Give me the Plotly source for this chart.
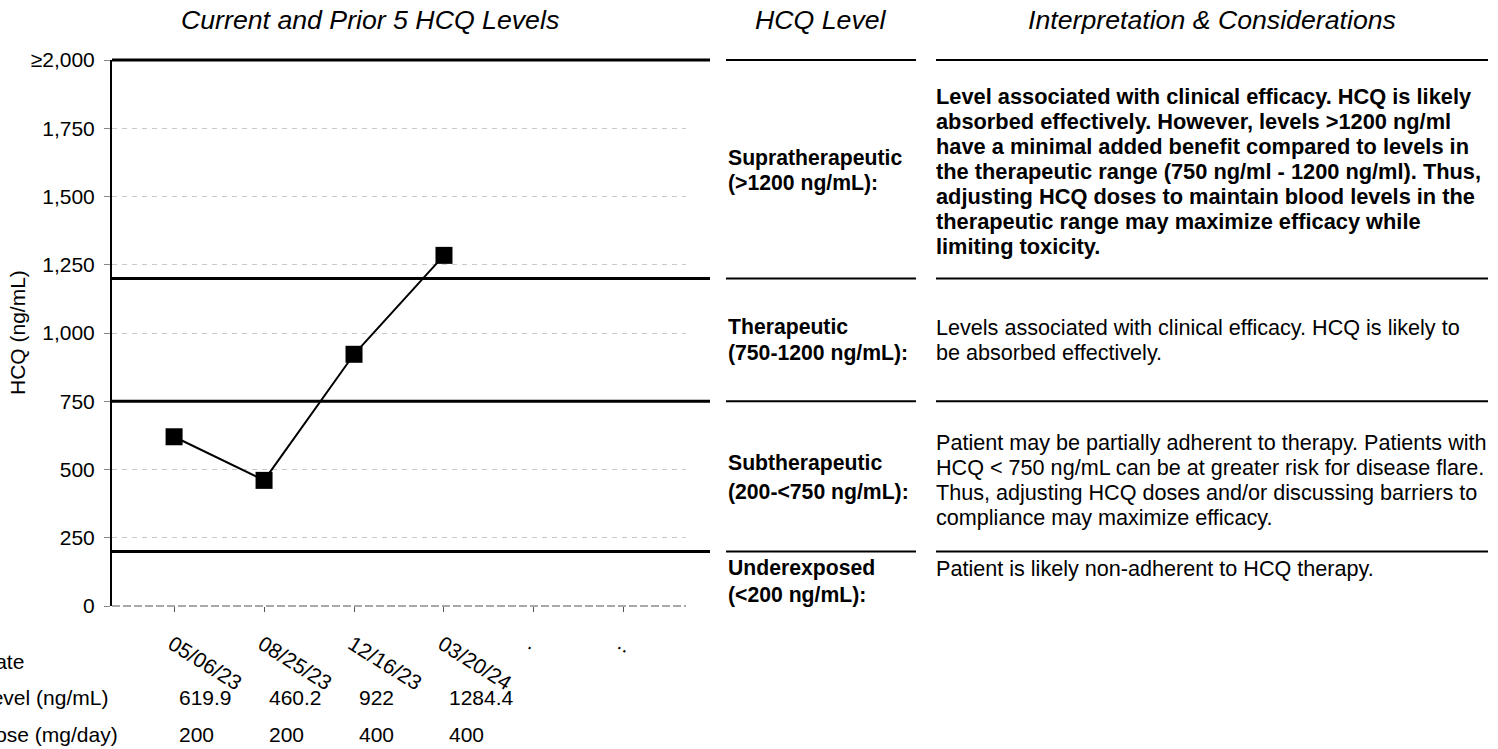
import plotly.graph_objects as go

# ---------------- data ----------------
dates = ["05/06/23", "08/25/23", "12/16/23", "03/20/24", ".", ".."]
hcq_levels = [619.9, 460.2, 922, 1284.4]
doses = [200, 200, 400, 400]
y_tick_vals = [0, 250, 500, 750, 1000, 1250, 1500, 1750, 2000]
y_tick_text = ["0", "250", "500", "750", "1,000", "1,250", "1,500", "1,750", "≥2,000"]
thresholds = [1200, 750, 200]
y_max = 2000

headers = ["<i>Current and Prior 5 HCQ Levels</i>", "<i>HCQ Level</i>", "<i>Interpretation &amp; Considerations</i>"]
row_labels = ["Date", "Level (ng/mL)", "Dose (mg/day)"]

level_names = [
    ["Supratherapeutic", "(&gt;1200 ng/mL):"],
    ["Therapeutic", "(750-1200 ng/mL):"],
    ["Subtherapeutic", "(200-&lt;750 ng/mL):"],
    ["Underexposed", "(&lt;200 ng/mL):"],
]
interpretations = [
    ["Level associated with clinical efficacy. HCQ is likely",
     "absorbed effectively. However, levels &gt;1200 ng/ml",
     "have a minimal added benefit compared to levels in",
     "the therapeutic range (750 ng/ml - 1200 ng/ml). Thus,",
     "adjusting HCQ doses to maintain blood levels in the",
     "therapeutic range may maximize efficacy while",
     "limiting toxicity."],
    ["Levels associated with clinical efficacy. HCQ is likely to",
     "be absorbed effectively."],
    ["Patient may be partially adherent to therapy. Patients with",
     "HCQ &lt; 750 ng/mL can be at greater risk for disease flare.",
     "Thus, adjusting HCQ doses and/or discussing barriers to",
     "compliance may maximize efficacy."],
    ["Patient is likely non-adherent to HCQ therapy."],
]
interp_bold = [True, False, False, False]

# ---------------- layout geometry (pixels) ----------------
W, H = 1498, 749
PL, PR, PT, PB = 112, 686, 60, 606
FONT = "Liberation Sans, Arial, sans-serif"


def fx(px):
    return (px - PL) / (PR - PL)


def fy(py):
    return (PB - py) / (PB - PT)


fig = go.Figure()
fig.add_trace(go.Scatter(
    x=list(range(len(hcq_levels))), y=hcq_levels,
    mode="lines+markers",
    line=dict(color="black", width=2),
    marker=dict(symbol="square", size=17, color="black"),
    cliponaxis=False, showlegend=False, hoverinfo="skip",
))

shapes = []
segments = [(PL, 710, 3), (726, 916, 2), (936, 1488, 2)]
for i, (a, b, w) in enumerate(segments):
    shapes.append(dict(type="line", xref="paper", yref="y domain",
                       x0=fx(a), x1=fx(b), y0=1, y1=1,
                       line=dict(color="black", width=w), layer="above"))
    for t in thresholds:
        shapes.append(dict(type="line", xref="paper", yref="y",
                           x0=fx(a), x1=fx(b), y0=t, y1=t,
                           line=dict(color="black", width=w), layer="above"))
shapes.append(dict(type="line", xref="paper", yref="y domain", x0=0, x1=1, y0=0, y1=0,
                   line=dict(color="#555555", width=1.2, dash="8px,3px"), layer="above"))

ann = []
for txt, cx in zip(headers, [370, 821, 1212]):
    ann.append(dict(text=txt, xref="paper", yref="paper", x=fx(cx), y=fy(20),
                    xanchor="center", yanchor="middle", showarrow=False,
                    font=dict(family=FONT, size=26.7, color="black")))
ann.append(dict(text="HCQ (ng/mL)", xref="paper", yref="paper", x=fx(17), y=0.5,
                xanchor="center", yanchor="middle", textangle=-90, showarrow=False,
                font=dict(family=FONT, size=21, color="black")))
for txt, yc in zip(row_labels, [661, 697, 734]):
    ann.append(dict(text=txt, xref="paper", yref="paper", x=fx(-22), y=fy(yc),
                    xanchor="left", yanchor="middle", showarrow=False,
                    font=dict(family=FONT, size=21, color="black")))
for i, (v, d) in enumerate(zip(hcq_levels, doses)):
    ann.append(dict(text=f"{v:g}", xref="x", yref="paper", x=i, y=fy(697), xshift=3,
                    xanchor="left", yanchor="middle", showarrow=False,
                    font=dict(family=FONT, size=21, color="black")))
    ann.append(dict(text=f"{d}", xref="x", yref="paper", x=i, y=fy(734), xshift=3,
                    xanchor="left", yanchor="middle", showarrow=False,
                    font=dict(family=FONT, size=21, color="black")))

name_y = [[158, 183], [327, 353], [463, 492], [568, 595]]
interp_y0 = [96, 327, 442, 568]
LINE = 25.1
for k in range(4):
    for line, yc in zip(level_names[k], name_y[k]):
        ann.append(dict(text=f"<b>{line}</b>", xref="paper", yref="paper", x=fx(726), y=fy(yc),
                        xanchor="left", yanchor="middle", showarrow=False,
                        font=dict(family=FONT, size=21.2, color="black")))
    for j, line in enumerate(interpretations[k]):
        t = f"<b>{line}</b>" if interp_bold[k] else line
        ann.append(dict(text=t, xref="paper", yref="paper", x=fx(934), y=fy(interp_y0[k] + j * LINE),
                        xanchor="left", yanchor="middle", showarrow=False,
                        font=dict(family=FONT, size=21.8 if interp_bold[k] else 21.6, color="black")))

fig.update_layout(
    width=W, height=H,
    margin=dict(l=PL, r=W - PR, t=PT, b=H - PB, pad=0),
    paper_bgcolor="white", plot_bgcolor="white",
    font=dict(family=FONT, size=21, color="black"),
    shapes=shapes, annotations=ann, showlegend=False,
    xaxis=dict(range=[-0.69, 5.69], tickmode="array", tickvals=list(range(len(dates))),
               ticktext=dates, tickangle=32, ticks="outside", ticklen=5, tickcolor="#555555",
               ticklabelstandoff=12, ticklabelshift=-2,
               showgrid=False, zeroline=False, showline=False, fixedrange=True,
               tickfont=dict(family=FONT, size=21, color="black")),
    yaxis=dict(range=[0, y_max], tickmode="array", tickvals=y_tick_vals, ticktext=y_tick_text,
               ticks="outside", ticklen=6, tickcolor="#888888", ticklabelstandoff=5,
               showgrid=True, gridcolor="#c8c8c8", griddash="5px,5px", gridwidth=1,
               zeroline=False, showline=True, linecolor="black", linewidth=2,
               tickfont=dict(family=FONT, size=21, color="black"), fixedrange=True),
)

fig.write_html("out.html", config={"displayModeBar": False},
               post_script="document.body.style.margin='0';")
